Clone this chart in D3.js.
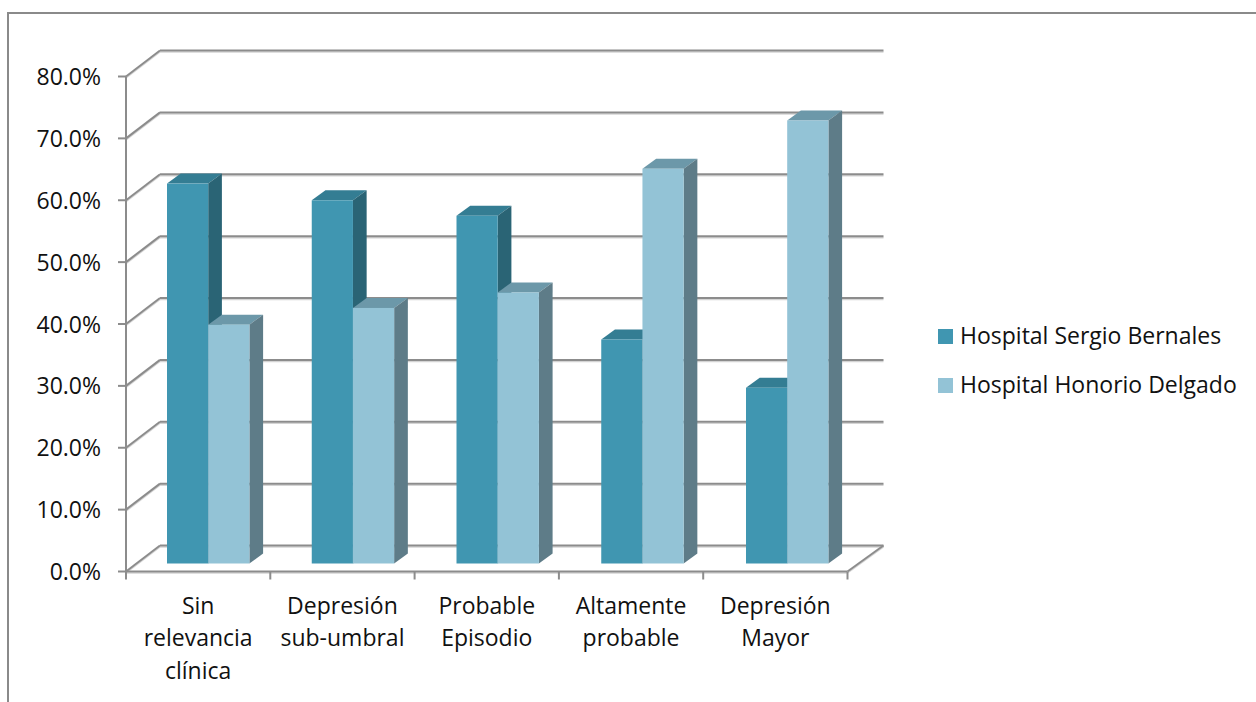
<!DOCTYPE html>
<html>
<head>
<meta charset="utf-8">
<script src="https://d3js.org/d3.v7.min.js"></script>
<style>
	html, body { margin: 0; padding: 0; background: #fff; overflow: hidden; }
	text { font-family: "Open Sans", Lato, sans-serif; fill: #111; font-size: 23px; }
</style>
</head>
<body>
<div id="my_dataviz"></div>
<script>
var categories = [["Sin", "relevancia", "clínica"], ["Depresión", "sub-umbral"], ["Probable", "Episodio"], ["Altamente", "probable"], ["Depresión", "Mayor"]];
var seriesNames = ["Hospital Sergio Bernales", "Hospital Honorio Delgado"];
var sergio = [61.4, 58.7, 56.2, 36.2, 28.4];
var honorio = [38.6, 41.3, 43.8, 63.8, 71.6];
var yTicks = [0, 10, 20, 30, 40, 50, 60, 70, 80];

var colors = [
	{ front: "#4096b1", side: "#2a6475", top: "#347d93" },
	{ front: "#93c3d6", side: "#5e7c88", top: "#6c98a9" }
];
var gridColor = "#8c8c8c", shadowColor = "#d4d4d4";

var width = 1256, height = 702;
var svg = d3.select("#my_dataviz").append("svg")
	.attr("width", width)
	.attr("height", height)
	.style("display", "block");

// chart frame, cut by the window on the right and bottom
var frame = d3.path();
frame.moveTo(8, height);
frame.lineTo(8, 13);
frame.lineTo(width, 13);
svg.append("path").attr("d", frame.toString()).attr("fill", "none").attr("stroke", "#8a8a8a").attr("stroke-width", 2);

// front plane of the 3d box and how far the back wall is pushed
var x0 = 126, x1 = 847.5, y0 = 571.5, y80 = 76.5;
var depth = { x: 34, y: -26 };
var bar = { x: 13.7, y: -10 };

var y = d3.scaleLinear().domain([0, 80]).range([y0, y80]);
var x = d3.scaleBand().domain(d3.range(categories.length)).range([x0, x1]);
// the bars stand on the floor a little behind the front plane
var xBar = d3.scaleBand().domain(d3.range(categories.length)).range([136, 859.75]);
var yBar = d3.scaleLinear().domain([0, 80]).range([563.5, 68.5]);
var barW = 41.2, barStart = 31;

function line(g, x1, y1, x2, y2) {
	g.append("line").attr("x1", x1).attr("y1", y1 + 1.5).attr("x2", x2).attr("y2", y2 + 1.5)
		.attr("stroke", shadowColor).attr("stroke-width", 1.5);
	g.append("line").attr("x1", x1).attr("y1", y1).attr("x2", x2).attr("y2", y2)
		.attr("stroke", gridColor).attr("stroke-width", 2);
}

var grid = svg.append("g");
yTicks.forEach(function (t) {
	line(grid, x0, y(t), x0 + depth.x, y(t) + depth.y);
	line(grid, x0 + depth.x, y(t) + depth.y, x1 + depth.x + 2, y(t) + depth.y);
});
line(grid, x1, y0, x1 + depth.x + 2, y0 + depth.y);

// axes
var axisG = svg.append("g");
line(axisG, x0, y0, x1, y0);
axisG.append("line").attr("x1", x0).attr("y1", y80).attr("x2", x0).attr("y2", y0)
	.attr("stroke", gridColor).attr("stroke-width", 2);
yTicks.forEach(function (t) {
	axisG.append("line").attr("x1", x0 - 8).attr("y1", y(t)).attr("x2", x0).attr("y2", y(t))
		.attr("stroke", gridColor).attr("stroke-width", 2);
	axisG.append("text")
		.attr("x", 101)
		.attr("y", y(t) + 8.5)
		.attr("text-anchor", "end")
		.text(t.toFixed(1) + "%");
});
d3.range(categories.length + 1).forEach(function (i) {
	var tx = x0 + i * x.step();
	axisG.append("line").attr("x1", tx).attr("y1", y0).attr("x2", tx).attr("y2", y0 + 8)
		.attr("stroke", gridColor).attr("stroke-width", 2);
});

// category labels
var labels = svg.append("g").selectAll("text").data(categories).enter().append("text")
	.attr("text-anchor", "middle");
labels.selectAll("tspan").data(function (d, i) { return d.map(function (s) { return { s: s, i: i }; }); })
	.enter().append("tspan")
	.attr("x", function (d) { return x(d.i) + x.bandwidth() / 2; })
	.attr("y", function (d, j) { return 613.5 + j * 32.5; })
	.text(function (d) { return d.s; });

// 3d bars, each one front, top and side
function drawBar(g, px, val, c) {
	var top = yBar(val), base = yBar(0);
	g.append("path").attr("fill", c.top)
		.attr("d", d3.line()([[px, top], [px + bar.x, top + bar.y], [px + barW + bar.x, top + bar.y], [px + barW, top]]) + "Z");
	g.append("path").attr("fill", c.side)
		.attr("d", d3.line()([[px + barW, top], [px + barW + bar.x, top + bar.y], [px + barW + bar.x, base + bar.y], [px + barW, base]]) + "Z");
	g.append("rect").attr("x", px).attr("y", top).attr("width", barW).attr("height", base - top).attr("fill", c.front);
}

var bars = svg.append("g");
categories.forEach(function (d, i) {
	var px = xBar(i) + barStart;
	drawBar(bars, px, sergio[i], colors[0]);
	drawBar(bars, px + barW, honorio[i], colors[1]);
});

// legend
var legend = svg.append("g").selectAll("g").data(seriesNames).enter().append("g")
	.attr("transform", function (d, i) { return "translate(938," + (329 + i * 49) + ")"; });
legend.append("rect").attr("width", 15).attr("height", 15)
	.attr("fill", function (d, i) { return colors[i].front; });
legend.append("text").attr("x", 22).attr("y", 14.5)
	.text(function (d) { return d; });
</script>
</body>
</html>
